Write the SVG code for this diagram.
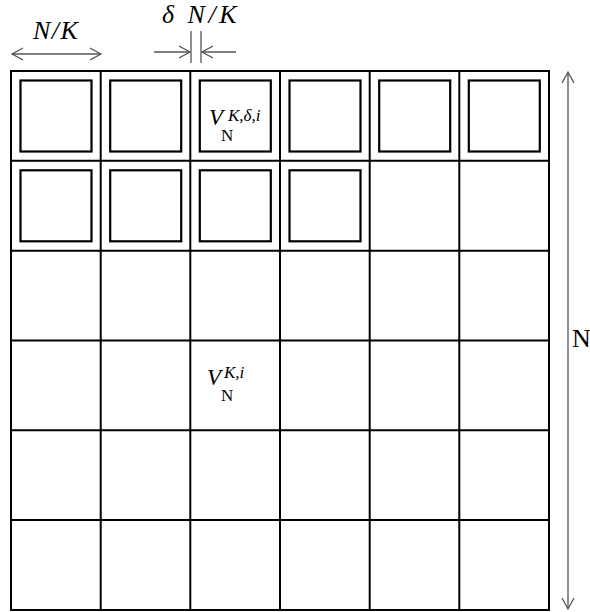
<svg xmlns="http://www.w3.org/2000/svg" width="590" height="612" viewBox="0 0 590 612">
<style>
.g{fill:none;stroke:#000;stroke-width:2}
.in{fill:none;stroke:#000;stroke-width:2.2}
.ar{fill:none;stroke:#555;stroke-width:1.3}
.m{font-family:"Liberation Serif","DejaVu Serif",serif;font-style:italic;fill:#000}
.r{font-family:"Liberation Serif","DejaVu Serif",serif;fill:#000}
</style>
<defs>
<marker id="ah" markerUnits="userSpaceOnUse" markerWidth="14" markerHeight="14" refX="11" refY="6.5" orient="auto-start-reverse" viewBox="0 0 14 13">
<path d="M0,0.5 L11,6.5 L0,12.5" fill="none" stroke="#555" stroke-width="1.3"/>
</marker>
</defs>
<rect width="590" height="612" fill="#fff"/>
<g id="grid">
<rect class="g" x="11" y="71" width="538" height="539"/>
<path class="g" d="M100.7,71V610M190.3,71V610M280,71V610M369.7,71V610M459.3,71V610M11,160.8H549M11,250.7H549M11,340.5H549M11,430.3H549M11,520H549"/>
</g>
<g id="subwindows">
<rect class="in" x="20.5" y="80.5" width="71" height="71"/>
<rect class="in" x="110.2" y="80.5" width="71" height="71"/>
<rect class="in" x="199.8" y="80.5" width="71" height="71"/>
<rect class="in" x="289.5" y="80.5" width="71" height="71"/>
<rect class="in" x="379.2" y="80.5" width="71" height="71"/>
<rect class="in" x="468.8" y="80.5" width="71" height="71"/>
<rect class="in" x="20.5" y="170.3" width="71" height="71"/>
<rect class="in" x="110.2" y="170.3" width="71" height="71"/>
<rect class="in" x="199.8" y="170.3" width="71" height="71"/>
<rect class="in" x="289.5" y="170.3" width="71" height="71"/>
</g>
<g id="connectors">
<line class="ar" x1="12" y1="54" x2="101" y2="54" marker-start="url(#ah)" marker-end="url(#ah)"/>
<line class="ar" x1="154" y1="52" x2="190" y2="52" marker-end="url(#ah)"/>
<line class="ar" x1="236" y1="52" x2="202" y2="52" marker-end="url(#ah)"/>
<line class="ar" x1="191" y1="31" x2="191" y2="63"/>
<line class="ar" x1="201" y1="31" x2="201" y2="63"/>
<line class="ar" x1="568" y1="72" x2="568" y2="609" marker-start="url(#ah)" marker-end="url(#ah)"/>
</g>
<g id="labels">
<text class="m" x="33" y="39" font-size="26" letter-spacing="1.5">N/K</text>
<text class="m" x="162" y="23" font-size="26" letter-spacing="3.5">δ N/K</text>
<text class="r" x="572" y="347" font-size="26">N</text>
</g>
<g id="label-v-delta">
<text class="m" x="209" y="125" font-size="23">V</text>
<text class="m" x="228" y="121" font-size="17">K,δ,i</text>
<text class="r" x="221" y="141" font-size="17">N</text>
</g>
<g id="label-v">
<text class="m" x="207" y="385" font-size="23">V</text>
<text class="m" x="224" y="378" font-size="17">K,i</text>
<text class="r" x="221" y="401" font-size="17">N</text>
</g>
</svg>
